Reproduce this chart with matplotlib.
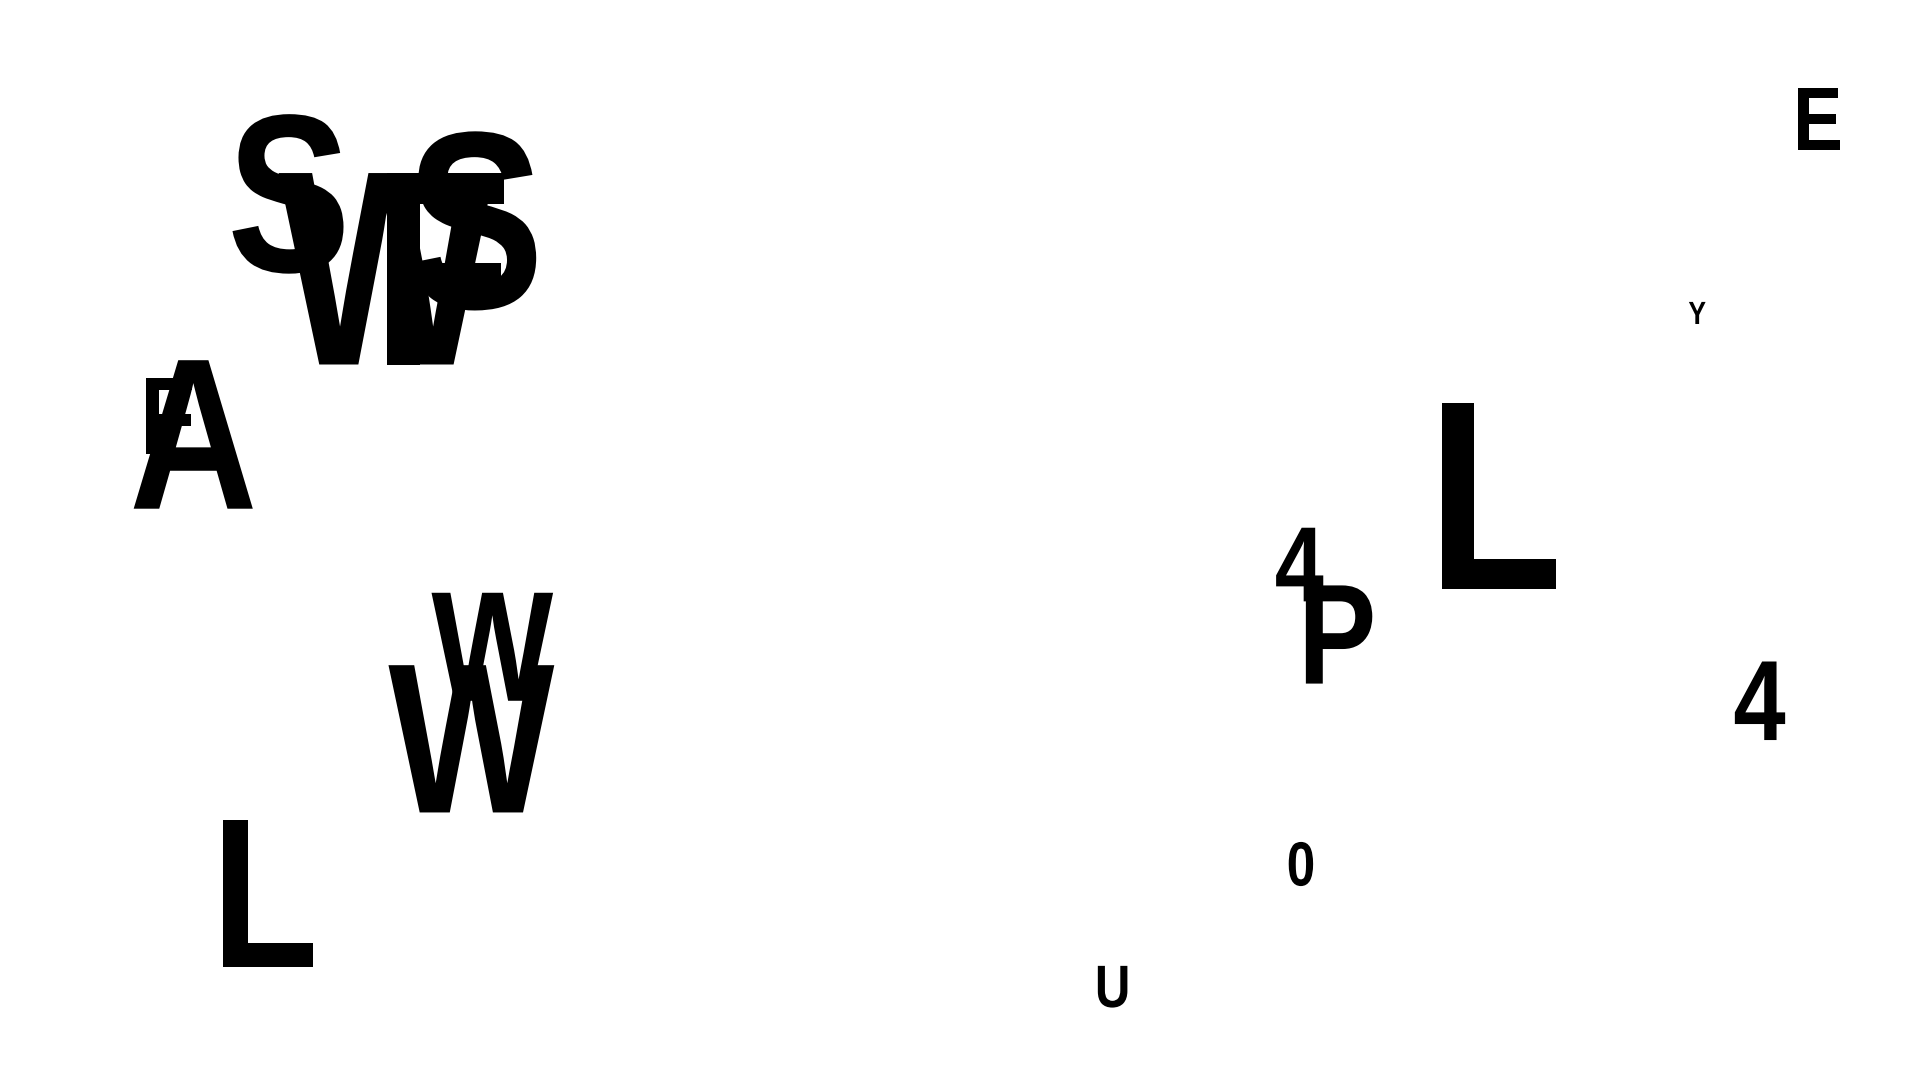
import matplotlib
matplotlib.use("Agg")
import matplotlib.pyplot as plt
from matplotlib.textpath import TextPath
from matplotlib.font_manager import FontProperties
from matplotlib.patches import PathPatch
from matplotlib.transforms import Affine2D

W0, H0 = 1560, 880
letters = ["S", "W", "S", "F", "A", "F", "W", "W", "L", "E", "Y", "L", "4", "P", "4", "0", "U"]
xs = [234, 314, 385, 362, 157, 137, 400, 383, 218, 1478, 1379, 1218, 1056, 1088, 1430, 1057, 904]
ys = [158, 219, 180, 219, 354, 339, 527, 602, 728, 97, 255, 404, 460, 517, 571, 704, 804]
heights = [130, 156, 146, 156, 121, 62, 88, 120, 120, 50, 18, 152, 60, 80, 64, 36, 34]

fp = FontProperties(family=["Liberation Sans", "DejaVu Sans"], weight="bold")
squeeze = 0.82

fig = plt.figure(figsize=(19.2, 10.8), dpi=100)
ax = fig.add_axes([0, 0, 1, 1])
ax.set_xlim(0, W0)
ax.set_ylim(H0, 0)
ax.axis("off")
for t, x, y, h in zip(letters, xs, ys, heights):
    tp = TextPath((0, 0), t, size=1, prop=fp)
    ext = tp.get_extents()
    cx, cy = (ext.x0 + ext.x1) / 2, (ext.y0 + ext.y1) / 2
    s = h / ext.height
    tr = Affine2D().translate(-cx, -cy).scale(s * squeeze, -s).translate(x, y)
    ax.add_patch(PathPatch(tr.transform_path(tp), facecolor="black", edgecolor="none"))
fig.savefig("out.png", dpi=100, facecolor="white")
